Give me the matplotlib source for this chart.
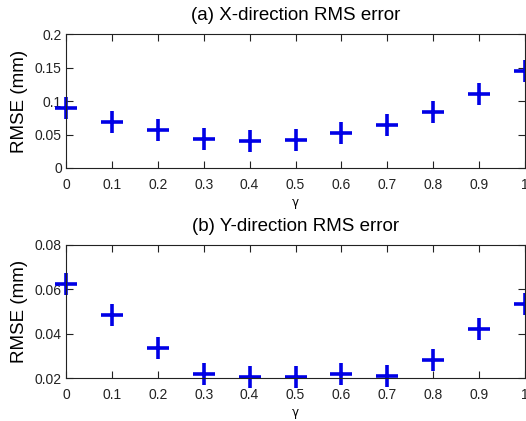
import numpy as np
import matplotlib.pyplot as plt

gamma = [0, 0.1, 0.2, 0.3, 0.4, 0.5, 0.6, 0.7, 0.8, 0.9, 1.0]
rmse_x = [0.089, 0.068, 0.057, 0.043, 0.041, 0.042, 0.052, 0.064, 0.083, 0.111, 0.145]
rmse_y = [0.0624, 0.0484, 0.0338, 0.0222, 0.0207, 0.0207, 0.0219, 0.0213, 0.0282, 0.0423, 0.0535]

titles = ["(a) X-direction RMS error", "(b) Y-direction RMS error"]
ylims = [(0, 0.2), (0.02, 0.08)]
yticks = [[0, 0.05, 0.1, 0.15, 0.2], [0.02, 0.04, 0.06, 0.08]]
ylabels = [["0", "0.05", "0.1", "0.15", "0.2"], ["0.02", "0.04", "0.06", "0.08"]]
xticklabels = ["0", "0.1", "0.2", "0.3", "0.4", "0.5", "0.6", "0.7", "0.8", "0.9", "1"]

plt.rcParams['font.family'] = ['Liberation Sans', 'DejaVu Sans']

fig = plt.figure(figsize=(5.26, 4.21), dpi=100)
ax1 = fig.add_axes([0.1255, 0.601, 0.8726, 0.318])
ax2 = fig.add_axes([0.1255, 0.101, 0.8726, 0.318])

for ax, vals, title, ylim, yt, yl in zip([ax1, ax2], [rmse_x, rmse_y], titles, ylims, yticks, ylabels):
    ax.plot(gamma, vals, linestyle='none', marker='+', color='#0000e6',
            markersize=16, markeredgewidth=2.6, clip_on=False)
    ax.set_xlim(0, 1)
    ax.set_ylim(*ylim)
    ax.set_xticks(gamma)
    ax.set_xticklabels(xticklabels)
    ax.set_yticks(yt)
    ax.set_yticklabels(yl)
    ax.tick_params(direction='in', top=True, right=True, labelsize=10, length=5, width=0.8,
                   colors='#222222')
    ax.tick_params(axis='x', pad=7)
    ax.tick_params(axis='y', pad=3)
    ax.set_title(title, fontsize=13.5, pad=10)
    ax.set_ylabel("RMSE (mm)", fontsize=13.5, labelpad=5)
    ax.set_xlabel("γ", fontsize=8.5, family='DejaVu Sans', labelpad=3)
    for s in ax.spines.values():
        s.set_linewidth(0.8)
        s.set_color('#222222')

fig.savefig("out.png", dpi=100)
